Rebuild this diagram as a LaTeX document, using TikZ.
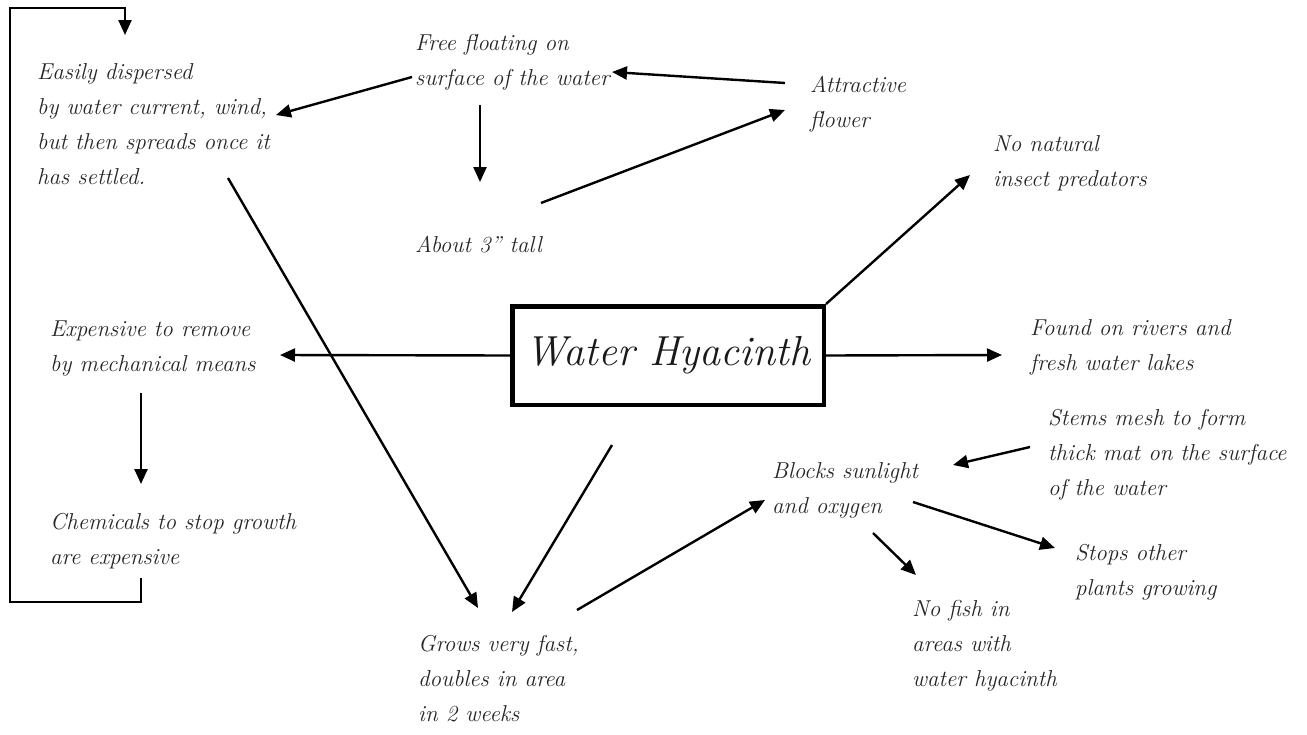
\documentclass[tikz,border=0pt]{standalone}
\usetikzlibrary{arrows.meta}
\begin{document}
\begin{tikzpicture}[x=1pt,y=-1pt,
 txt/.style={anchor=west,align=left,inner sep=0pt,font=\fontsize{23}{35}\selectfont\itshape,text=black!85},
 arr/.style={line width=2.4pt,-{Triangle[length=15pt,width=13pt]}},
 ln/.style={line width=2.4pt}]
\useasboundingbox (0,0) rectangle (1307,734);
\fill[white] (0,0) rectangle (1307,734);

\node[draw,line width=4.5pt,minimum width=311.5pt,minimum height=98.5pt,inner sep=0pt,
      font=\fontsize{42}{46}\selectfont\itshape,text=black!90] (hub) at (668,355.5) {Water Hyacinth};

\node[txt] (easily) at (37,124) {Easily dispersed\\by water current, wind,\\but then spreads once it\\has settled.};
\node[txt] (free) at (415,62) {Free floating on\\surface of the water};
\node[txt] (attr) at (810,104) {Attractive\\flower};
\node[txt] (about) at (415,245) {About 3" tall};
\node[txt] (nonat) at (993,163) {No natural\\insect predators};
\node[txt] (expensive) at (50,349) {Expensive to remove\\by mechanical means};
\node[txt] (found) at (1030,347) {Found on rivers and\\fresh water lakes};
\node[txt] (chem) at (50,541) {Chemicals to stop growth\\are expensive};
\node[txt] (stems) at (1048,455) {Stems mesh to form\\thick mat on the surface\\of the water};
\node[txt] (blocks) at (772,490) {Blocks sunlight\\and oxygen};
\node[txt] (stops) at (1075,572) {Stops other\\plants growing};
\node[txt] (nofish) at (912,646) {No fish in\\areas with\\water hyacinth};
\node[txt] (grows) at (418,679) {Grows very fast,\\doubles in area\\in 2 weeks};

\coordinate (c1) at (280,355);
\coordinate (c2) at (1002,355);
\coordinate (c3) at (970,175);
\coordinate (c4s) at (612,445); \coordinate (c4) at (512,612);
\coordinate (c5s) at (228,178); \coordinate (c5) at (478,608);
\coordinate (c6s) at (577,610); \coordinate (c6) at (765,500);
\coordinate (c7s) at (480,105); \coordinate (c7) at (480,182);
\coordinate (c8s) at (541,203); \coordinate (c8) at (785,110);
\coordinate (c9s) at (785,83); \coordinate (c9) at (612,72);
\coordinate (c10s) at (412,77); \coordinate (c10) at (276,115);
\coordinate (c11s) at (141,393); \coordinate (c11) at (141,484);
\coordinate (c12s) at (141,578); \coordinate (c12) at (125,35);
\coordinate (c13s) at (1030,447); \coordinate (c13) at (953,465);
\coordinate (c14s) at (913,502); \coordinate (c14) at (1055,548);
\coordinate (c15s) at (873,533); \coordinate (c15) at (916,575);

\draw[arr] (hub.west) -- (c1);
\draw[arr] (hub.east) -- (c2);
\draw[arr] (hub.north east) -- (c3);
\draw[arr] (c4s) -- (c4);
\draw[arr] (c5s) -- (c5);
\draw[arr] (c6s) -- (c6);
\draw[arr] (c7s) -- (c7);
\draw[arr] (c8s) -- (c8);
\draw[arr] (c9s) -- (c9);
\draw[arr] (c10s) -- (c10);
\draw[arr] (c11s) -- (c11);
\draw[arr] (c12s) -- (141,602) -- (10,602) -- (10,8) -- (125,8) -- (c12);
\draw[arr] (c13s) -- (c13);
\draw[arr] (c14s) -- (c14);
\draw[arr] (c15s) -- (c15);
\end{tikzpicture}
\end{document}
